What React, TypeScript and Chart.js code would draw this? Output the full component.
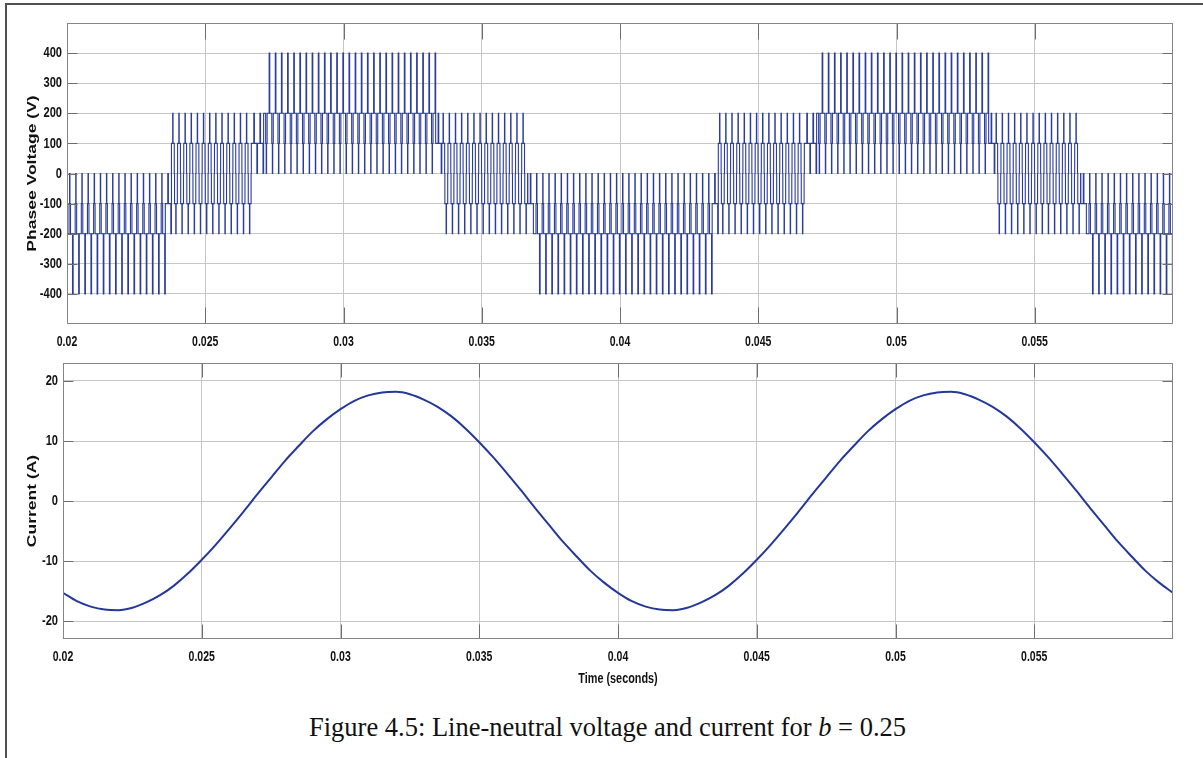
import React, { useEffect, useRef } from 'react';
import { Chart, registerables } from 'chart.js';

Chart.register(...registerables);

// Axis ticks
const timeTicks = [0.02, 0.025, 0.03, 0.035, 0.04, 0.045, 0.05, 0.055];
const voltageTicks = [-400, -300, -200, -100, 0, 100, 200, 300, 400];
const currentTicks = [-20, -10, 0, 10, 20];

// Phase voltage: start time (s) of each switching band and which pulse pattern it uses
const bandStart = [
  0.02, 0.02336, 0.02357, 0.0265, 0.02693, 0.03318, 0.03336, 0.03664, 0.03682,
  0.04314, 0.04336, 0.04646, 0.0469, 0.05321, 0.05339, 0.05664, 0.05686,
];
const bandPattern = [
  'N4', 'N2', 'Z4', 'P2', 'P4', 'P2', 'Z4', 'N2', 'N4',
  'N2', 'Z4', 'P2', 'P4', 'P2', 'Z4', 'N2', 'N4',
];
const timeEnd = 0.06;
const carrierHz = 4500;

// Levels (V) visited during one carrier period, and the share of the period on each
const levelsN4 = [-200, -100, 0, -100, -200, -400];
const levelsP4 = [200, 100, 0, 100, 200, 400];
const shareWide = [0.33, 0.09, 0.06, 0.09, 0.33, 0.1];
const levelsZ4 = [100, 200, 100, 0, -100, -200, -100, 0];
const shareZero = [0.2, 0.06, 0.2, 0.04, 0.2, 0.06, 0.2, 0.04];
const levelsP2 = [100, 200, 100, 0];
const levelsN2 = [-100, 0, -100, -200];
const shareNarrow = [0.4, 0.1, 0.4, 0.1];

// Line current (A), sampled every 0.5 ms from 0.02 s to 0.06 s
const currentStep = 0.0005;
const currentValues = [
  -15.3, -16.7, -17.6, -18.1, -18.2, -17.8, -16.9, -15.7, -14.1, -12.1,
  -9.8, -7.3, -4.6, -1.8, 1.1, 3.9, 6.7, 9.2, 11.6, 13.6,
  15.3, 16.7, 17.6, 18.1, 18.2, 17.8, 16.9, 15.7, 14.1, 12.1,
  9.8, 7.3, 4.6, 1.8, -1.1, -3.9, -6.7, -9.2, -11.6, -13.6,
  -15.3, -16.7, -17.6, -18.1, -18.2, -17.8, -16.9, -15.7, -14.1, -12.1,
  -9.8, -7.3, -4.6, -1.8, 1.1, 3.9, 6.7, 9.2, 11.6, 13.6,
  15.3, 16.7, 17.6, 18.1, 18.2, 17.8, 16.9, 15.7, 14.1, 12.1,
  9.8, 7.3, 4.6, 1.8, -1.1, -3.9, -6.7, -9.2, -11.6, -13.6,
  -15.3,
];

const patternTable: Record<string, { levels: number[]; share: number[] }> = {
  N4: { levels: levelsN4, share: shareWide },
  P4: { levels: levelsP4, share: shareWide },
  Z4: { levels: levelsZ4, share: shareZero },
  P2: { levels: levelsP2, share: shareNarrow },
  N2: { levels: levelsN2, share: shareNarrow },
};

function buildVoltage() {
  const pts: { x: number; y: number }[] = [];
  const period = 1 / carrierHz;
  const n = Math.round((timeEnd - bandStart[0]) * carrierHz);
  let last = 0;
  for (let k = 0; k < n; k++) {
    const t0 = bandStart[0] + k * period;
    let b = 0;
    while (b + 1 < bandStart.length && bandStart[b + 1] <= t0 + 1e-9) b++;
    const p = patternTable[bandPattern[b]];
    let acc = 0;
    p.levels.forEach((lv, i) => {
      pts.push({ x: t0 + acc * period, y: lv });
      acc += p.share[i];
      last = lv;
    });
  }
  pts.push({ x: timeEnd, y: last });
  return pts;
}

function buildCurrent() {
  return currentValues.map((v, i) => ({ x: timeTicks[0] + i * currentStep, y: v }));
}

const LABEL_FONT = '"Liberation Sans", Arial, Helvetica, sans-serif';

// MATLAB-style frame: boxed axes, inward tick marks, condensed bold labels
const framePlugin = {
  id: 'frame',
  afterDraw(chart: any, _args: any, opts: any) {
    const { ctx, chartArea: a, scales } = chart;
    const xs = scales.x;
    const ys = scales.y;
    const L = Math.round(a.left) + 0.5;
    const R = Math.round(a.right) - 0.5;
    const T = Math.round(a.top) + 0.5;
    const B = Math.round(a.bottom) - 0.5;
    ctx.save();

    ctx.strokeStyle = '#6e6e6e';
    ctx.lineWidth = 1;
    ctx.beginPath();
    xs.ticks.forEach((t: any) => {
      const p = Math.round(xs.getPixelForValue(t.value)) + 0.5;
      ctx.moveTo(p, B);
      ctx.lineTo(p, B - opts.xLen);
      ctx.moveTo(p, T);
      ctx.lineTo(p, T + opts.xLen);
    });
    ys.ticks.forEach((t: any) => {
      const p = Math.round(ys.getPixelForValue(t.value)) + 0.5;
      ctx.moveTo(L, p);
      ctx.lineTo(L + opts.yLen, p);
      ctx.moveTo(R, p);
      ctx.lineTo(R - opts.yLen, p);
    });
    ctx.stroke();

    ctx.strokeStyle = '#858585';
    ctx.strokeRect(L, T, R - L, B - T);

    ctx.fillStyle = '#111111';
    ctx.font = `bold 15px ${LABEL_FONT}`;
    ctx.textBaseline = 'middle';
    ctx.textAlign = 'center';
    xs.ticks.forEach((t: any) => {
      const p = xs.getPixelForValue(t.value);
      ctx.save();
      ctx.translate(p, a.bottom + 18);
      ctx.scale(0.7, 1);
      ctx.fillText(String(Number(t.value.toFixed(3))), 0, 0);
      ctx.restore();
    });
    ctx.textAlign = 'right';
    ys.ticks.forEach((t: any) => {
      const p = ys.getPixelForValue(t.value);
      ctx.save();
      ctx.translate(a.left - 5, p);
      ctx.scale(0.74, 1);
      ctx.fillText(String(t.value), 0, 0);
      ctx.restore();
    });

    ctx.textAlign = 'center';
    ctx.save();
    ctx.translate(32.5, (a.top + a.bottom) / 2);
    ctx.rotate(-Math.PI / 2);
    ctx.scale(1, 0.72);
    ctx.font = `bold 17.5px ${LABEL_FONT}`;
    ctx.fillText(opts.yTitle, 0, 0);
    ctx.restore();

    if (opts.xTitle) {
      ctx.save();
      ctx.translate((a.left + a.right) / 2, a.bottom + 40);
      ctx.scale(0.7, 1);
      ctx.font = `bold 15.5px ${LABEL_FONT}`;
      ctx.fillText(opts.xTitle, 0, 0);
      ctx.restore();
    }
    ctx.restore();
  },
};

function makeConfig(opts: {
  data: { x: number; y: number }[];
  stepped: boolean;
  lineWidth: number;
  color: string;
  yMin: number;
  yMax: number;
  yTicks: number[];
  yAxisWidth: number;
  xAxisHeight: number;
  padTop: number;
  yTitle: string;
  xTitle: string | null;
  xLen: number;
}): any {
  return {
    type: 'line',
    data: {
      datasets: [
        {
          data: opts.data,
          borderColor: opts.color,
          borderWidth: opts.lineWidth,
          pointRadius: 0,
          fill: false,
          stepped: opts.stepped,
          tension: 0,
          cubicInterpolationMode: opts.stepped ? 'default' : 'monotone',
        },
      ],
    },
    options: {
      animation: false,
      responsive: false,
      devicePixelRatio: 1,
      events: [],
      layout: { padding: { top: opts.padTop, right: 30, left: 0, bottom: 0 } },
      plugins: {
        legend: { display: false },
        tooltip: { enabled: false },
        frame: { yTitle: opts.yTitle, xTitle: opts.xTitle, xLen: opts.xLen, yLen: 10 },
      },
      scales: {
        x: {
          type: 'linear',
          min: 0.02,
          max: 0.06,
          afterBuildTicks: (s: any) => {
            s.ticks = timeTicks.map((v) => ({ value: v }));
          },
          afterFit: (s: any) => {
            s.height = opts.xAxisHeight;
          },
          ticks: { display: false },
          grid: { color: '#c6c6c6', lineWidth: 1, drawTicks: false },
          border: { display: false },
        },
        y: {
          type: 'linear',
          min: opts.yMin,
          max: opts.yMax,
          afterBuildTicks: (s: any) => {
            s.ticks = opts.yTicks.map((v) => ({ value: v }));
          },
          afterFit: (s: any) => {
            s.width = opts.yAxisWidth;
          },
          ticks: { display: false },
          grid: { color: '#c6c6c6', lineWidth: 1, drawTicks: false },
          border: { display: false },
        },
      },
    },
    plugins: [framePlugin],
  };
}

export default function App() {
  const topRef = useRef<HTMLCanvasElement>(null);
  const botRef = useRef<HTMLCanvasElement>(null);

  useEffect(() => {
    const top = new Chart(
      topRef.current as HTMLCanvasElement,
      makeConfig({
        data: buildVoltage(),
        stepped: true,
        lineWidth: 1.1,
        color: '#2a3c9e',
        yMin: -500,
        yMax: 500,
        yTicks: voltageTicks,
        yAxisWidth: 67,
        xAxisHeight: 26,
        padTop: 23,
        yTitle: 'Phasee Voltage (V)',
        xTitle: null,
        xLen: 16,
      })
    );
    const bottom = new Chart(
      botRef.current as HTMLCanvasElement,
      makeConfig({
        data: buildCurrent(),
        stepped: false,
        lineWidth: 2,
        color: '#23389a',
        yMin: -23,
        yMax: 23,
        yTicks: currentTicks,
        yAxisWidth: 63,
        xAxisHeight: 61,
        padTop: 13,
        yTitle: 'Current (A)',
        xTitle: 'Time (seconds)',
        xLen: 14,
      })
    );
    return () => {
      top.destroy();
      bottom.destroy();
    };
  }, []);

  return (
    <div
      style={{
        position: 'fixed',
        left: 0,
        top: 0,
        width: 1203,
        height: 758,
        background: '#ffffff',
        overflow: 'hidden',
      }}
    >
      <div
        style={{
          position: 'absolute',
          left: 5,
          top: 3,
          width: 1300,
          height: 900,
          borderLeft: '2px solid #505050',
          borderTop: '2px solid #505050',
        }}
      />
      <canvas
        ref={topRef}
        width={1203}
        height={350}
        style={{ position: 'absolute', left: 0, top: 0, width: 1203, height: 350 }}
      />
      <canvas
        ref={botRef}
        width={1203}
        height={350}
        style={{ position: 'absolute', left: 0, top: 350, width: 1203, height: 350 }}
      />
      <div
        style={{
          position: 'absolute',
          left: 0,
          width: 1215,
          top: 712,
          textAlign: 'center',
          fontFamily: '"Liberation Serif", "Times New Roman", serif',
          fontSize: 26.5,
          lineHeight: '30px',
          color: '#111',
          whiteSpace: 'nowrap',
        }}
      >
        Figure 4.5: Line-neutral voltage and current for <i>b</i> = 0.25
      </div>
    </div>
  );
}
